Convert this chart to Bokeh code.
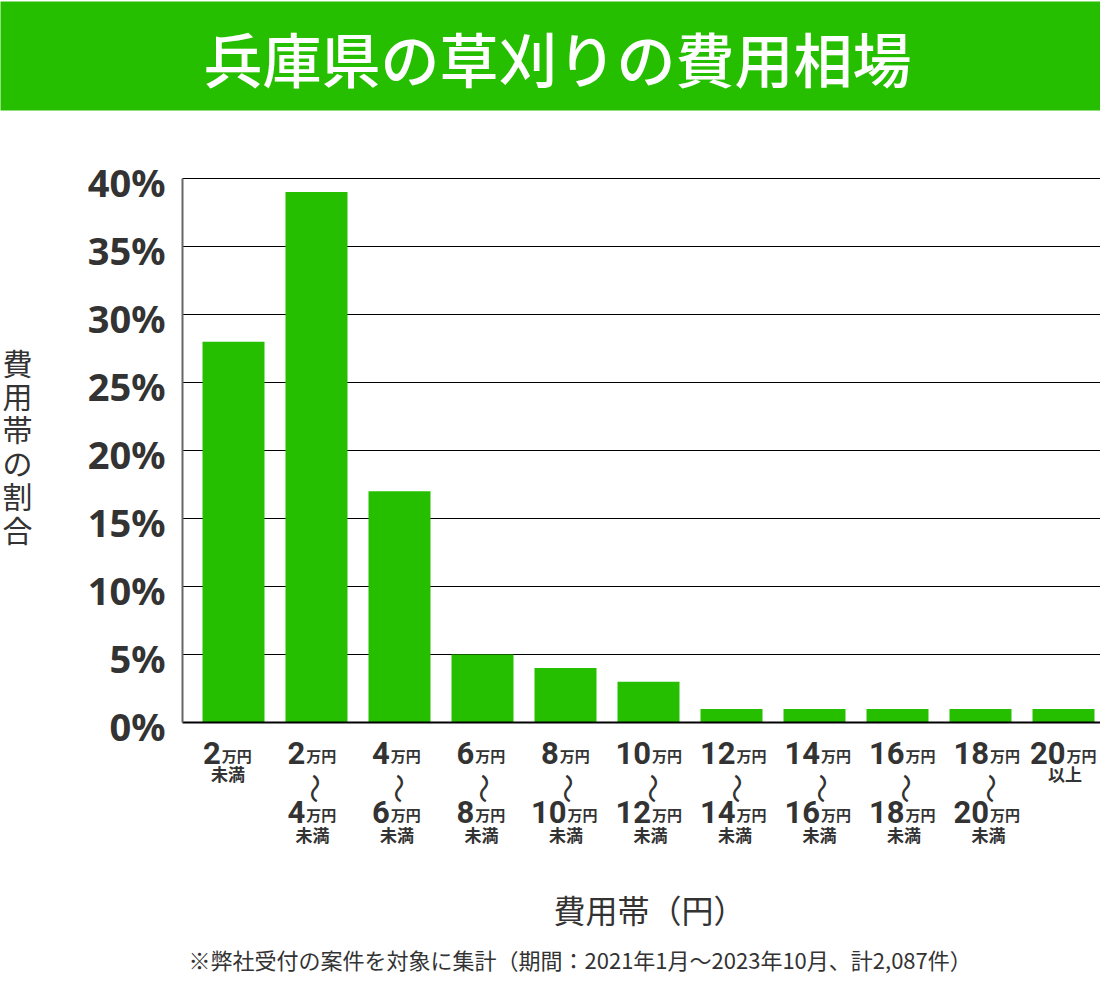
import math
from bokeh.plotting import figure
from bokeh.models import Range1d
from bokeh.core.properties import value
from bokeh.embed import file_html
from bokeh.resources import INLINE

# ---------------- data ----------------
title_text = "兵庫県の草刈りの費用相場"
y_axis_title = "費用帯の割合"
x_axis_title = "費用帯（円）"
footnote = "※弊社受付の案件を対象に集計（期間：2021年1月～2023年10月、計2,087件）"

range_from = ["2", "2", "4", "6", "8", "10", "12", "14", "16", "18", "20"]
range_to = ["", "4", "6", "8", "10", "12", "14", "16", "18", "20", ""]
range_tail = ["未満"] * 10 + ["以上"]
unit_text = "万円"
share_pct = [28, 39, 17, 5, 4, 3, 1, 1, 1, 1, 1]
y_ticks = [0, 5, 10, 15, 20, 25, 30, 35, 40]
y_tick_labels = [f"{t}%" for t in y_ticks]

# ---------------- layout helpers ----------------
W, H = 1100, 974
GREEN = "#25BF00"
DARK = "#333333"
JP = value("Noto Sans CJK JP")
JP_MED = value("Noto Sans CJK JP Medium")
NUM_FONT = value("Roboto")

CAT_PX0, CAT_PX = 233.0, 83.0       # bar centres in canvas px
ZERO_PX, PCT_PX = 722.0, 13.6       # value 0 row, px per percent


def X(px):
    return (px - CAT_PX0) / CAT_PX


def Y(px):
    return (ZERO_PX - px) / PCT_PX


p = figure(width=W, height=H, output_backend="svg", toolbar_location=None,
           x_range=Range1d(X(0), X(W)), y_range=Range1d(Y(H), Y(0)),
           min_border=0, min_border_left=0, min_border_right=0,
           min_border_top=0, min_border_bottom=0)
p.axis.visible = False
p.grid.visible = False
p.outline_line_color = None
p.background_fill_color = "white"
p.border_fill_color = "white"

# title band
p.quad(left=[X(-5)], right=[X(W + 5)], top=[Y(1)], bottom=[Y(110)],
       fill_color=GREEN, line_color=None)
p.text(x=[X(557)], y=[Y(57)], text=[title_text], text_font=JP_MED,
       text_font_size="59px", text_font_style="bold", text_color="white",
       text_align="center", text_baseline="middle")

# grid lines
n = len(share_pct)
gx0, gx1 = X(182), X(1113)
p.segment(x0=[gx0] * (len(y_ticks) - 1), x1=[gx1] * (len(y_ticks) - 1),
          y0=y_ticks[1:], y1=y_ticks[1:], line_color="black", line_width=1)

# bars
p.vbar(x=list(range(n)), top=share_pct, bottom=0, width=62 / 83,
       fill_color=GREEN, line_color=None)

# axis lines
p.segment(x0=[gx0], x1=[gx1], y0=[0], y1=[0], line_color="black", line_width=2)
p.segment(x0=[gx0], x1=[gx0], y0=[0], y1=[y_ticks[-1]], line_color="#666666",
          line_width=2)

# y tick labels
p.text(x=[X(165)] * len(y_ticks), y=y_ticks, text=y_tick_labels,
       text_font=value("Noto Sans"), text_font_size="38px", text_font_style="bold",
       text_color=DARK, text_align="right", text_baseline="middle", y_offset=3)

# x tick labels (composed)
fs_num, fs_unit, fs_tail = 31, 15, 17
dw = 0.5 * fs_num
kw = 2 * fs_unit
num_x, num_y, num_t, num_off = [], [], [], []
unit_x, unit_y, unit_off = [], [], []
tail_x, tail_y, tail_t, tail_off = [], [], [], []
wave_x, wave_y, wave_off = [], [], []
for i in range(n):
    co = min(-5.5 + 1.5 * i, 1095 - kw - 2 * dw - (CAT_PX0 + CAT_PX * i) + (2 * dw + kw) / 2)
    lines = [range_from[i]] + ([range_to[i]] if range_to[i] else [])
    num_c = [752.5, 811.5]
    unit_c = [755.0, 814.0]
    for k, s in enumerate(lines):
        numw = len(s) * dw
        anchor = co - (numw + kw) / 2 + numw
        num_x.append(i); num_y.append(Y(num_c[k])); num_t.append(s); num_off.append(anchor)
        unit_x.append(i); unit_y.append(Y(unit_c[k])); unit_off.append(anchor + 1)
    if range_to[i]:
        wave_x.append(i); wave_y.append(Y(788)); wave_off.append(co)
        tail_y.append(Y(833.5))
    else:
        tail_y.append(Y(773))
    tail_x.append(i); tail_t.append(range_tail[i]); tail_off.append(co)

p.text(x=num_x, y=num_y, text=num_t, x_offset=num_off, text_font=NUM_FONT,
       text_font_size=f"{fs_num}px", text_font_style="bold", text_color=DARK,
       text_align="right", text_baseline="middle")
p.text(x=unit_x, y=unit_y, text=[unit_text] * len(unit_x), x_offset=unit_off,
       text_font=JP, text_font_size=f"{fs_unit}px", text_font_style="bold",
       text_color=DARK, text_align="left", text_baseline="middle")
p.text(x=tail_x, y=tail_y, text=tail_t, x_offset=tail_off, text_font=JP,
       text_font_size=f"{fs_tail}px", text_font_style="bold", text_color=DARK,
       text_align="center", text_baseline="middle")
p.text(x=wave_x, y=wave_y, text=["～"] * len(wave_x), x_offset=wave_off,
       angle=math.pi / 2, text_font=JP, text_font_size="30px",
       text_font_style="normal", text_color=DARK, text_align="center",
       text_baseline="middle")

# axis titles
p.text(x=[X(649)], y=[Y(908)], text=[x_axis_title], text_font=JP,
       text_font_size="32px", text_color=DARK, text_align="center",
       text_baseline="middle")
chars = list(y_axis_title)
p.text(x=[X(17)] * len(chars), y=[Y(361 + 33.4 * k) for k in range(len(chars))],
       text=chars, text_font=JP, text_font_size="30px", text_color=DARK,
       text_align="center", text_baseline="middle")

# footnote
p.text(x=[X(188)], y=[Y(958)], text=[footnote], text_font=JP,
       text_font_size="22px", text_color=DARK, text_align="left",
       text_baseline="middle")

open("out.html", "w").write(file_html(p, INLINE))
